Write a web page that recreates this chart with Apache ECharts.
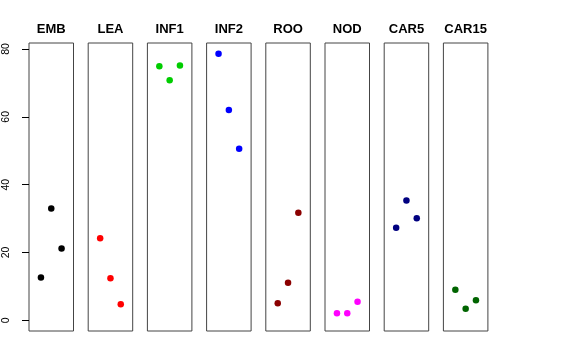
<!DOCTYPE html>
<html><head><meta charset="utf-8">
<script src="https://cdn.jsdelivr.net/npm/echarts@6/dist/echarts.min.js"></script>
<style>html,body{margin:0;padding:0;background:#fff}#c{width:576px;height:360px}</style>
</head><body><div id="c"></div>
<script>
var panels = ['EMB','LEA','INF1','INF2','ROO','NOD','CAR5','CAR15'];
var colors = ['#000000','#FF0000','#00CD00','#0000FF','#8B0000','#FF00FF','#000080','#006400'];
var xPos = [1, 2, 3];
var EMB  = [12.6, 33.0, 21.2];
var LEA  = [24.2, 12.4, 4.7];
var INF1 = [74.9, 70.8, 75.1];
var INF2 = [78.6, 62.0, 50.6];
var ROO  = [5.0, 11.1, 31.7];
var NOD  = [2.1, 2.1, 5.5];
var CAR5 = [27.3, 35.3, 30.1];
var CAR15 = [9.0, 3.4, 5.9];
var values = [EMB, LEA, INF1, INF2, ROO, NOD, CAR5, CAR15];
var yTicks = [0, 20, 40, 60, 80];

var grids = [], xAxes = [], yAxes = [], series = [], graphics = [];
var L0 = 29, step = 59.2, W = 44.5, TOP = 43, H = 288;
panels.forEach(function(name, i){
  var left = L0 + i*step;
  grids.push({left: left, top: TOP, width: W, height: H, show: true, borderColor: '#444', borderWidth: 1, backgroundColor: 'transparent'});
  xAxes.push({gridIndex: i, type: 'value', min: -0.16, max: 4.16, show: false});
  yAxes.push({gridIndex: i, type: 'value', min: -3.16, max: 81.77, show: false});
  series.push({type: 'scatter', xAxisIndex: i, yAxisIndex: i, symbolSize: 6.5,
    itemStyle: {color: colors[i], opacity: 1},
    data: values[i].map(function(v, k){ return [xPos[k], v]; })});
  graphics.push({type: 'text', x: left + W/2, y: 29.5,
    style: {text: name, font: 'bold 13px "Liberation Sans", Arial, sans-serif', fill: '#000', textAlign: 'center', textVerticalAlign: 'middle'}});
});
// y axis: narrow grid left of first panel; split lines act as outside ticks
grids.push({left: L0 - 7, top: 49, width: 7, height: 271.3, show: false});
xAxes.push({gridIndex: 8, type: 'value', show: false, min: 0, max: 1});
yAxes.push({gridIndex: 8, type: 'value', min: yTicks[0], max: yTicks[yTicks.length-1], interval: 20, position: 'left', show: true,
  axisLine: {show: false},
  axisTick: {show: false},
  splitLine: {show: true, lineStyle: {color: '#000', width: 1, type: 'solid'}},
  axisLabel: {show: true, rotate: 90, margin: 10, color: '#000', fontSize: 10.5, fontFamily: '"Liberation Sans", Arial, sans-serif'}});
series.push({type: 'scatter', xAxisIndex: 8, yAxisIndex: 8, data: [], silent: true});

var chart = echarts.init(document.getElementById('c'), null, {renderer: 'canvas'});
chart.setOption({
  animation: false,
  backgroundColor: '#fff',
  grid: grids, xAxis: xAxes, yAxis: yAxes, series: series, graphic: graphics
});
</script></body></html>
